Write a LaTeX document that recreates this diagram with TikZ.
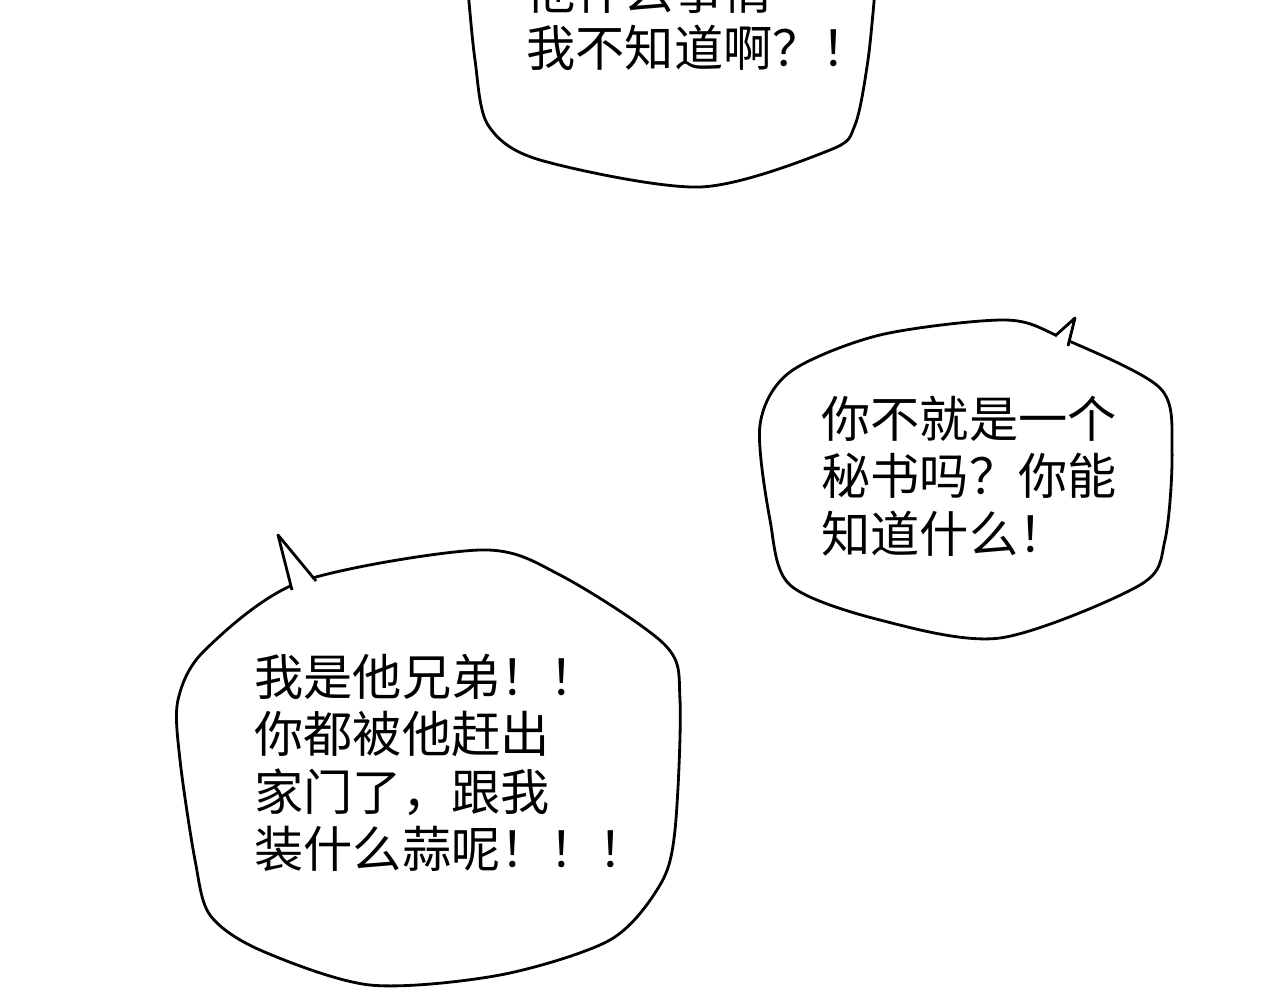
\documentclass[tikz,border=0pt]{standalone}
\usepackage{fontspec}
\newfontfamily\cjk{Noto Sans CJK SC}
\begin{document}
\begin{tikzpicture}[x=0.2mm,y=-0.2mm,line width=1.6pt,line join=round,
  txt/.style={font=\cjk\fontsize{28}{32.5}\selectfont,align=left,anchor=north west,inner sep=0pt}]
\useasboundingbox (0,0) rectangle (1280,1000);
\clip (0,0) rectangle (1280,1000);
% top bubble
\draw[fill=white] plot[smooth,tension=0.5] coordinates{(468,-10)(475,60)(488,125)(540,160)(700,187)(830,150)(855,125)(868,60)(875,-10)};
\node[txt] (t1) at (525,-33) {他什么事情\\我不知道啊？！};
% middle bubble
\draw[fill=white] plot[smooth cycle,tension=0.5] coordinates{(760,425)(790,372)(880,335)(1005,320)(1062,338)(1160,388)(1172,450)(1165,540)(1140,585)(1000,638)(880,620)(790,585)(770,520)};
\filldraw[fill=white] (1055,336)--(1075,318)--(1068,346);
\fill[white] (1057,338)--(1066,343)--(1068,350)--(1050,345)--cycle;
\node[txt] (t2) at (820,395) {你不就是一个\\秘书吗？你能\\知道什么！};
% bottom bubble
\draw[fill=white] plot[smooth cycle,tension=0.5] coordinates{(178,700)(205,650)(300,582)(480,550)(560,575)(665,645)(680,700)(675,830)(660,885)(610,940)(500,975)(370,985)(260,950)(210,915)(195,860)(180,760)};
\filldraw[fill=white] (292,590)--(278,535)--(316,581);
\fill[white] (294,587)--(314,580)--(312,592)--(296,597)--cycle;
\node[txt] (t3) at (253,653) {我是他兄弟！！\\你都被他赶出\\家门了，跟我\\装什么蒜呢！！！};
\end{tikzpicture}
\end{document}
